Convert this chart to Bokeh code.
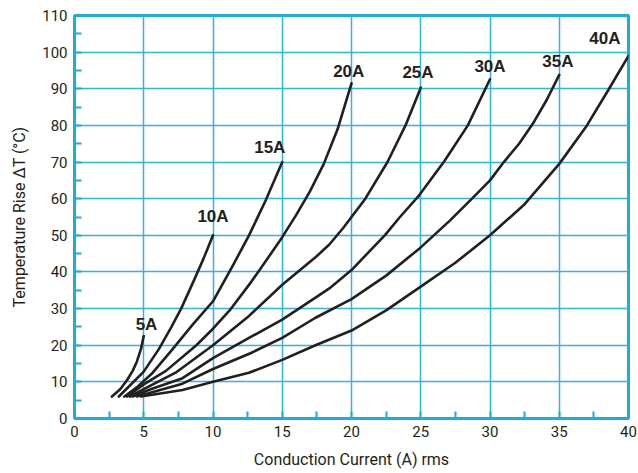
from bokeh.plotting import figure
from bokeh.models import SingleIntervalTicker, Range1d, ColumnDataSource
from bokeh.core.properties import value
from bokeh.embed import file_html
from bokeh.resources import INLINE

# Conduction current (A rms) vs temperature rise (deg C) for rated currents
c5_x = [2.7, 3.3, 3.8, 4.2, 4.5, 4.8, 5.0]
c5_y = [6, 8, 10.5, 13, 15.5, 19, 22.5]
c10_x = [3.2, 4.0, 5.0, 6.1, 7.0, 7.7, 8.6, 9.3, 10.0]
c10_y = [6, 9, 12.8, 19, 25, 30, 37.5, 43.5, 50]
c15_x = [3.6, 4.5, 5.65, 7.1, 8.5, 10.0, 11.4, 12.6, 13.8, 15.0]
c15_y = [6, 8.5, 12.5, 19, 25.5, 32, 41.5, 50, 59.5, 70]
c20_x = [3.8, 5.0, 6.6, 8.8, 10.0, 11.2, 12.8, 14.0, 15.0, 16.0, 17.0, 18.0, 19.0, 20.0]
c20_y = [6, 9.3, 13, 20, 24.5, 29.5, 37.5, 44, 49.5, 55.5, 62, 69.5, 79, 91.5]
c25_x = [4.0, 5.0, 7.3, 10.0, 12.6, 15.0, 17.4, 18.4, 19.4, 20.0, 21.0, 22.6, 23.9, 25.0]
c25_y = [6, 8, 12.5, 20, 28, 36.5, 44, 47.5, 52, 55, 60, 70, 80, 90.3]
c30_x = [4.2, 5.5, 7.8, 10.0, 12.6, 15.0, 17.4, 18.4, 20.0, 22.4, 23.5, 24.9, 26.7, 28.4, 30.0]
c30_y = [6, 8, 11, 16.5, 22, 27, 33, 35.5, 40.5, 50, 55, 61, 70.2, 80, 92.6]
c35_x = [4.5, 7.8, 10.0, 12.7, 15.0, 17.4, 20.0, 22.5, 25.0, 27.1, 28.7, 30.0, 31.0, 32.1, 33.1, 34.1, 35.0]
c35_y = [6, 9.5, 13.5, 17.8, 22, 27.5, 32.6, 39, 46.7, 54, 60, 65, 70, 75, 80.5, 87, 93.8]
c40_x = [4.8, 7.8, 10.0, 12.6, 15.0, 17.4, 20.0, 22.5, 25.0, 27.5, 30.0, 32.5, 35.0, 37.0, 38.6, 40.0]
c40_y = [6, 7.8, 10, 12.5, 16, 20, 24, 29.5, 36, 42.5, 50, 58.5, 69.5, 80, 90, 99]

label_text = ["5A", "10A", "15A", "20A", "25A", "30A", "35A", "40A"]
label_x = [5.2, 10.0, 14.1, 19.8, 24.8, 30.0, 34.9, 38.3]
label_y = [25.7, 55.2, 74.0, 94.7, 94.5, 96.1, 97.5, 103.7]

x_label = "Conduction Current (A) rms"
y_label = "Temperature Rise ΔT (°C)"

BLUE = "#1AACE3"
GRID = "#2DB4E8"
INK = "#231F20"

p = figure(width=637, height=472, output_backend="svg", toolbar_location=None,
           x_range=Range1d(0, 40), y_range=Range1d(0, 110),
           min_border_left=74, min_border_right=9, min_border_top=15, min_border_bottom=54)
p.background_fill_color = "white"
p.border_fill_color = "white"
p.outline_line_color = BLUE
p.outline_line_width = 3

xt = SingleIntervalTicker(interval=5, num_minor_ticks=2)
yt = SingleIntervalTicker(interval=10, num_minor_ticks=2)
p.xaxis.ticker = xt
p.yaxis.ticker = yt
p.xgrid.ticker = xt
p.ygrid.ticker = yt
for g in (p.xgrid, p.ygrid):
    g.grid_line_color = GRID
    g.grid_line_width = 1.5

for ax in (p.xaxis, p.yaxis):
    ax.axis_line_color = None
    ax.major_tick_in = 0
    ax.major_tick_out = 0
    ax.minor_tick_in = 7
    ax.minor_tick_out = 0
    ax.minor_tick_line_color = BLUE
    ax.minor_tick_line_width = 2
    ax.major_label_text_font = "Roboto"
    ax.major_label_text_font_size = "15px"
    ax.major_label_text_color = INK
    ax.axis_label_text_font = "Roboto"
    ax.axis_label_text_font_size = "16px"
    ax.axis_label_text_font_style = "normal"
    ax.axis_label_text_color = INK

p.xaxis.major_label_standoff = 7
p.xaxis.axis_label_standoff = 10
p.yaxis.major_label_standoff = 7
p.yaxis.axis_label_standoff = 10

p.xaxis.axis_label = x_label
p.yaxis.axis_label = y_label

for xs, ys in [(c5_x, c5_y), (c10_x, c10_y), (c15_x, c15_y), (c20_x, c20_y),
               (c25_x, c25_y), (c30_x, c30_y), (c35_x, c35_y), (c40_x, c40_y)]:
    p.line(xs, ys, line_color=INK, line_width=2.6, line_cap="round", line_join="round")

src = ColumnDataSource(dict(x=label_x, y=label_y, t=label_text))
p.text(x="x", y="y", text="t", source=src, text_align="center", text_baseline="middle",
       text_font=value("Liberation Sans"), text_font_style="bold",
       text_font_size="17px", text_color=INK)

open("out.html", "w").write(file_html(p, INLINE))
